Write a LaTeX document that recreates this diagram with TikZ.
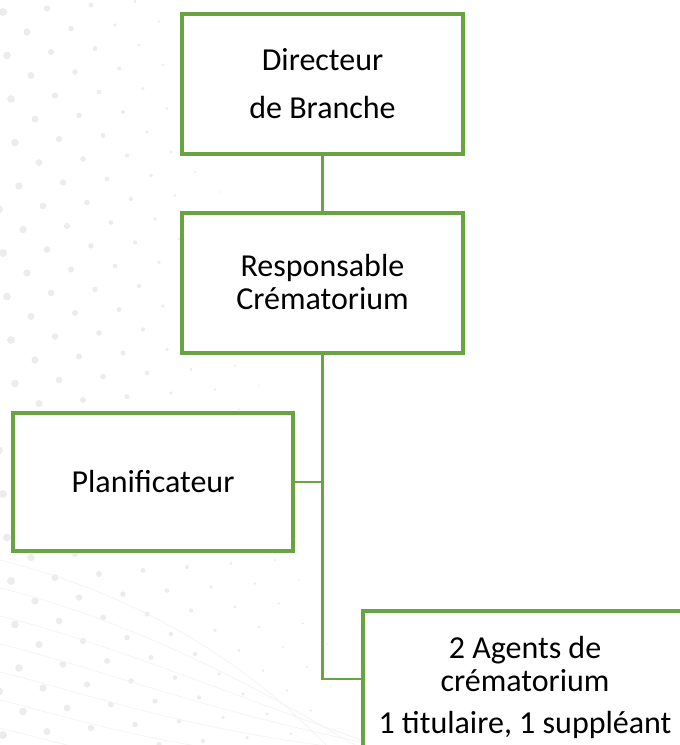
\documentclass[tikz,border=0pt]{standalone}
\usepackage{fontspec}
\setmainfont{Carlito}
\definecolor{vert}{RGB}{106,163,68}
\definecolor{pointgris}{RGB}{236,236,236}
\definecolor{lignegris}{RGB}{244,244,244}
\tikzset{
	poste/.style={draw=vert, line width=4pt, fill=white, minimum width=281, minimum height=140,
		align=center, inner sep=0pt, font=\fontsize{32}{33}\selectfont},
	lien/.style={draw=vert, line width=2.5pt}
}

\begin{document}
\begin{tikzpicture}[x=1pt,y=-1pt]
			\clip (0,0) rectangle (680,745);
			% fond : points et lignes
			\foreach \i in {-20,...,16}{
				\foreach \j in {0,...,37}{
					\pgfmathsetmacro\px{3+44*\i+24*\j}
					\pgfmathsetmacro\py{12-3.5*\i+20*\j}
					\pgfmathsetmacro\lim{175+0.24*\py}
					\pgfmathsetmacro\r{\px<\lim ? 3.2*(1-\px/\lim)+0.8 : 0}
					\ifdim\r pt>0.5pt \fill[pointgris] (\px,\py) circle[radius=\r]; \fi
				}
			}
			\foreach \k in {0,...,7}
				\draw[lignegris, line width=0.8] (0,{560+28*\k}) .. controls (120,{590+28*\k}) and (240,{650+25*\k}) .. ({340+40*\k},760);
			% organigramme
			\node[poste] (directeur) at (322.5,84) {Directeur\\[15pt]de Branche};
			\node[poste] (responsable) at (322.5,282.5) {Responsable\\Crématorium};
			\node[poste, minimum width=280, minimum height=138] (planif) at (153,482) {Planificateur};
			\node[poste, minimum width=324, minimum height=152] (agents) at (525,687) {2 Agents de\\crématorium\\[9pt]1 titulaire, 1 suppléant};
			\coordinate (jonction) at (responsable.south |- planif.east);
			\draw[lien] (directeur) -- (responsable);
			\draw[lien] (responsable) |- ([yshift=8pt]agents.west);
			\draw[lien] (planif) -- (jonction);
		\end{tikzpicture}
\end{document}
